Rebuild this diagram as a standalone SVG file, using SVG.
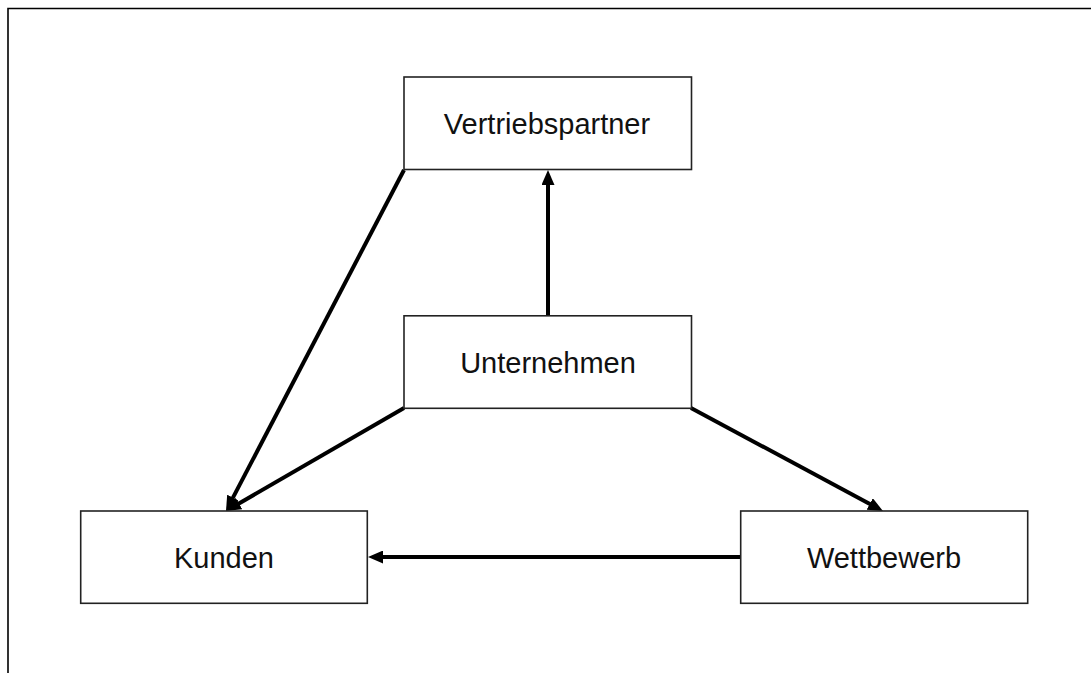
<svg xmlns="http://www.w3.org/2000/svg" width="1091" height="673" viewBox="0 0 1091 673">
<style>
.box{fill:#fff;stroke:#222;stroke-width:1.6}
.lbl{font-family:"Liberation Sans",Arial,sans-serif;font-size:29px;fill:#111;text-anchor:middle}
.con{stroke:#000;stroke-width:4;fill:none;marker-end:url(#ah)}
</style>
<defs>
<marker id="ah" viewBox="0 0 15 13" refX="7" refY="6.5" markerWidth="15" markerHeight="13" markerUnits="userSpaceOnUse" orient="auto">
<path d="M0,0 L15,6.5 L0,13 z" fill="#000"/>
</marker>
</defs>
<rect x="0" y="0" width="1091" height="673" fill="#fff"/>
<path d="M8,673 L8,8.5 L1091,8.5" fill="none" stroke="#000" stroke-width="1.6"/>
<g id="connectors">
<line class="con" x1="548" y1="316" x2="548" y2="178"/>
<line class="con" x1="741" y1="557" x2="376" y2="557"/>
<line class="con" x1="404" y1="170" x2="229.7" y2="503.9"/>
<line class="con" x1="404" y1="408" x2="232.9" y2="507"/>
<line class="con" x1="691" y1="408" x2="875.9" y2="507.2"/>
</g>
<g id="vertriebspartner">
<rect class="box" x="404" y="77" width="287.5" height="92.5"/>
<text class="lbl" x="547" y="134">Vertriebspartner</text>
</g>
<g id="unternehmen">
<rect class="box" x="404" y="315.8" width="287.5" height="92.5"/>
<text class="lbl" x="548" y="372.7">Unternehmen</text>
</g>
<g id="kunden">
<rect class="box" x="80.7" y="511" width="286.6" height="92.3"/>
<text class="lbl" x="224" y="567.7">Kunden</text>
</g>
<g id="wettbewerb">
<rect class="box" x="740.7" y="511" width="287" height="92.3"/>
<text class="lbl" x="884" y="567.7">Wettbewerb</text>
</g>
</svg>
